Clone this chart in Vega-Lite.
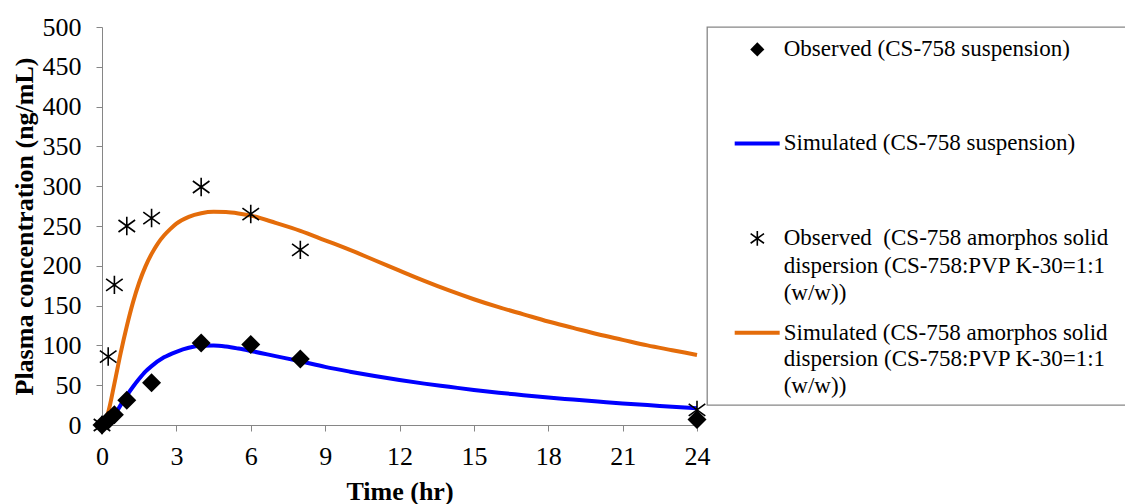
{
  "$schema": "https://vega.github.io/schema/vega-lite/v6.json",
  "autosize": {"type": "pad"},
  "padding": {"left": 11, "top": 14, "right": 0, "bottom": 0},
  "background": "white",
  "bounds": "flush",
  "spacing": 10,
  "config": {
    "view": {"stroke": null},
    "font": "Liberation Serif",
    "axis": {
      "grid": false,
      "domainColor": "#868686",
      "tickColor": "#868686",
      "tickSize": 6,
      "labelFont": "Liberation Serif",
      "labelFontSize": 26,
      "labelColor": "black",
      "labelOverlap": false,
      "labelFlush": false,
      "titleFont": "Liberation Serif",
      "titleFontSize": 26,
      "titleFontWeight": "bold",
      "titleColor": "black"
    }
  },
  "datasets": {
    "sim": [
      {"time": 0, "conc": 0, "formulation": "Suspension"},
      {"time": 0.25, "conc": 3, "formulation": "Suspension"},
      {"time": 0.5, "conc": 12, "formulation": "Suspension"},
      {"time": 0.75, "conc": 25, "formulation": "Suspension"},
      {"time": 1, "conc": 37, "formulation": "Suspension"},
      {"time": 1.25, "conc": 48, "formulation": "Suspension"},
      {"time": 1.5, "conc": 58, "formulation": "Suspension"},
      {"time": 1.75, "conc": 67, "formulation": "Suspension"},
      {"time": 2, "conc": 74, "formulation": "Suspension"},
      {"time": 2.5, "conc": 85, "formulation": "Suspension"},
      {"time": 3, "conc": 92, "formulation": "Suspension"},
      {"time": 3.5, "conc": 97, "formulation": "Suspension"},
      {"time": 4, "conc": 99.5, "formulation": "Suspension"},
      {"time": 4.5, "conc": 99.8, "formulation": "Suspension"},
      {"time": 5, "conc": 98.5, "formulation": "Suspension"},
      {"time": 5.5, "conc": 96, "formulation": "Suspension"},
      {"time": 6, "conc": 93, "formulation": "Suspension"},
      {"time": 7, "conc": 86.5, "formulation": "Suspension"},
      {"time": 8, "conc": 80, "formulation": "Suspension"},
      {"time": 9, "conc": 73, "formulation": "Suspension"},
      {"time": 10, "conc": 67, "formulation": "Suspension"},
      {"time": 11, "conc": 61.5, "formulation": "Suspension"},
      {"time": 12, "conc": 56.5, "formulation": "Suspension"},
      {"time": 13, "conc": 52, "formulation": "Suspension"},
      {"time": 14, "conc": 48, "formulation": "Suspension"},
      {"time": 15, "conc": 44, "formulation": "Suspension"},
      {"time": 16, "conc": 40.5, "formulation": "Suspension"},
      {"time": 17, "conc": 37.5, "formulation": "Suspension"},
      {"time": 18, "conc": 34.5, "formulation": "Suspension"},
      {"time": 19, "conc": 32, "formulation": "Suspension"},
      {"time": 20, "conc": 29.5, "formulation": "Suspension"},
      {"time": 21, "conc": 27, "formulation": "Suspension"},
      {"time": 22, "conc": 25, "formulation": "Suspension"},
      {"time": 23, "conc": 23, "formulation": "Suspension"},
      {"time": 24, "conc": 21, "formulation": "Suspension"},
      {"time": 0, "conc": 0, "formulation": "ASD"},
      {"time": 0.25, "conc": 16, "formulation": "ASD"},
      {"time": 0.5, "conc": 52, "formulation": "ASD"},
      {"time": 0.75, "conc": 90, "formulation": "ASD"},
      {"time": 1, "conc": 124, "formulation": "ASD"},
      {"time": 1.25, "conc": 154, "formulation": "ASD"},
      {"time": 1.5, "conc": 179, "formulation": "ASD"},
      {"time": 1.75, "conc": 199, "formulation": "ASD"},
      {"time": 2, "conc": 215, "formulation": "ASD"},
      {"time": 2.25, "conc": 228, "formulation": "ASD"},
      {"time": 2.5, "conc": 238, "formulation": "ASD"},
      {"time": 2.75, "conc": 246, "formulation": "ASD"},
      {"time": 3, "conc": 253, "formulation": "ASD"},
      {"time": 3.5, "conc": 261.5, "formulation": "ASD"},
      {"time": 4, "conc": 266, "formulation": "ASD"},
      {"time": 4.5, "conc": 267.8, "formulation": "ASD"},
      {"time": 5, "conc": 267.5, "formulation": "ASD"},
      {"time": 5.5, "conc": 265.8, "formulation": "ASD"},
      {"time": 6, "conc": 263, "formulation": "ASD"},
      {"time": 7, "conc": 254, "formulation": "ASD"},
      {"time": 8, "conc": 244, "formulation": "ASD"},
      {"time": 9, "conc": 232, "formulation": "ASD"},
      {"time": 10, "conc": 220, "formulation": "ASD"},
      {"time": 11, "conc": 207, "formulation": "ASD"},
      {"time": 12, "conc": 194, "formulation": "ASD"},
      {"time": 13, "conc": 181, "formulation": "ASD"},
      {"time": 14, "conc": 169, "formulation": "ASD"},
      {"time": 15, "conc": 158, "formulation": "ASD"},
      {"time": 16, "conc": 148, "formulation": "ASD"},
      {"time": 17, "conc": 139, "formulation": "ASD"},
      {"time": 18, "conc": 130, "formulation": "ASD"},
      {"time": 19, "conc": 122, "formulation": "ASD"},
      {"time": 20, "conc": 114, "formulation": "ASD"},
      {"time": 21, "conc": 107, "formulation": "ASD"},
      {"time": 22, "conc": 100, "formulation": "ASD"},
      {"time": 23, "conc": 94, "formulation": "ASD"},
      {"time": 24, "conc": 88, "formulation": "ASD"}
    ],
    "obs": [
      {"time": 0, "conc": 0, "formulation": "Suspension"},
      {"time": 0.25, "conc": 6, "formulation": "Suspension"},
      {"time": 0.5, "conc": 13, "formulation": "Suspension"},
      {"time": 1, "conc": 31, "formulation": "Suspension"},
      {"time": 2, "conc": 53, "formulation": "Suspension"},
      {"time": 4, "conc": 103, "formulation": "Suspension"},
      {"time": 6, "conc": 101, "formulation": "Suspension"},
      {"time": 8, "conc": 83, "formulation": "Suspension"},
      {"time": 24, "conc": 7, "formulation": "Suspension"},
      {"time": 0, "conc": 0, "formulation": "ASD"},
      {"time": 0.25, "conc": 86, "formulation": "ASD"},
      {"time": 0.5, "conc": 176, "formulation": "ASD"},
      {"time": 1, "conc": 250, "formulation": "ASD"},
      {"time": 2, "conc": 260, "formulation": "ASD"},
      {"time": 4, "conc": 299, "formulation": "ASD"},
      {"time": 6, "conc": 265, "formulation": "ASD"},
      {"time": 8, "conc": 220, "formulation": "ASD"},
      {"time": 24, "conc": 19, "formulation": "ASD"}
    ],
    "legendSymbols": [
      {"kind": "diamond", "lx": 11.7, "ly": 5.93},
      {"kind": "star", "lx": 11.7, "ly": 55.93}
    ],
    "legendLines": [
      {"kind": "Suspension", "lx": 6.44, "lx2": 16.9, "ly": 30.79},
      {"kind": "ASD", "lx": 6.44, "lx2": 16.9, "ly": 80.87}
    ],
    "legendText": [
      {"lx": 17.84, "ly": 5.93, "label": "Observed (CS-758 suspension)"},
      {"lx": 17.84, "ly": 30.79, "label": "Simulated (CS-758 suspension)"},
      {"lx": 17.84, "ly": 55.93, "label": "Observed\u00a0 (CS-758 amorphos solid"},
      {"lx": 17.84, "ly": 63.23, "label": "dispersion (CS-758:PVP K-30=1:1"},
      {"lx": 17.84, "ly": 70.29, "label": "(w/w))"},
      {"lx": 17.84, "ly": 80.87, "label": "Simulated (CS-758 amorphos solid"},
      {"lx": 17.84, "ly": 87.94, "label": "dispersion (CS-758:PVP K-30=1:1"},
      {"lx": 17.84, "ly": 94.97, "label": "(w/w))"}
    ]
  },
  "hconcat": [
    {
      "width": 595,
      "height": 398,
      "encoding": {
        "x": {"field": "time", "type": "quantitative", "scale": {"domain": [0, 24], "nice": false},
              "axis": {"values": [0, 3, 6, 9, 12, 15, 18, 21, 24], "title": "Time (hr)", "labelPadding": 12, "titlePadding": 9, "labelOverlap": false, "labelFlush": false}},
        "y": {"field": "conc", "type": "quantitative", "scale": {"domain": [0, 500], "nice": false},
              "axis": {"values": [0, 50, 100, 150, 200, 250, 300, 350, 400, 450, 500], "tickCount": 11, "title": "Plasma concentration (ng/mL)", "labelPadding": 15, "titlePadding": 5, "labelOverlap": false, "labelSeparation": 0, "labelFlush": false, "labelBound": false}}
      },
      "layer": [
        {
          "data": {"name": "sim"},
          "mark": {"type": "line", "strokeWidth": 4, "interpolate": "monotone"},
          "encoding": {
            "color": {"field": "formulation", "type": "nominal", "scale": {"domain": ["Suspension", "ASD"], "range": ["#0000FF", "#E46C0A"]}, "legend": null},
            "detail": {"field": "formulation"}
          }
        },
        {
          "data": {"name": "obs"},
          "transform": [{"filter": "datum.formulation === 'Suspension'"}],
          "mark": {"type": "point", "shape": "diamond", "filled": true, "color": "black", "size": 360, "opacity": 1}
        },
        {
          "data": {"name": "obs"},
          "transform": [{"filter": "datum.formulation === 'ASD'"}],
          "mark": {"type": "point", "shape": "M-0.9,-0.65L0.9,0.65M-0.9,0.65L0.9,-0.65M0,-1L0,1", "filled": false, "stroke": "black", "strokeWidth": 1.6, "size": 340, "opacity": 1}
        }
      ]
    },
    {
      "width": 430,
      "height": 378,
      "view": {"stroke": "#868686", "strokeWidth": 1.3},
      "layer": [
        {
          "data": {"name": "legendLines"},
          "mark": {"type": "rule", "strokeWidth": 4},
          "encoding": {
            "x": {"field": "lx", "type": "quantitative", "scale": {"domain": [0, 100]}, "axis": null},
            "x2": {"field": "lx2"},
            "y": {"field": "ly", "type": "quantitative", "scale": {"domain": [0, 100], "reverse": true}, "axis": null},
            "color": {"field": "kind", "type": "nominal", "scale": {"domain": ["Suspension", "ASD"], "range": ["#0000FF", "#E46C0A"]}, "legend": null}
          }
        },
        {
          "data": {"name": "legendSymbols"},
          "transform": [{"filter": "datum.kind === 'diamond'"}],
          "mark": {"type": "point", "shape": "diamond", "filled": true, "color": "black", "size": 200, "opacity": 1},
          "encoding": {
            "x": {"field": "lx", "type": "quantitative"},
            "y": {"field": "ly", "type": "quantitative"}
          }
        },
        {
          "data": {"name": "legendSymbols"},
          "transform": [{"filter": "datum.kind === 'star'"}],
          "mark": {"type": "point", "shape": "M-0.9,-0.65L0.9,0.65M-0.9,0.65L0.9,-0.65M0,-1L0,1", "filled": false, "stroke": "black", "strokeWidth": 1.6, "size": 220, "opacity": 1},
          "encoding": {
            "x": {"field": "lx", "type": "quantitative"},
            "y": {"field": "ly", "type": "quantitative"}
          }
        },
        {
          "data": {"name": "legendText"},
          "mark": {"type": "text", "align": "left", "baseline": "middle", "font": "Liberation Serif", "fontSize": 23, "color": "black"},
          "encoding": {
            "x": {"field": "lx", "type": "quantitative"},
            "y": {"field": "ly", "type": "quantitative"},
            "text": {"field": "label"}
          }
        }
      ],
      "resolve": {"scale": {"color": "independent"}}
    }
  ],
  "resolve": {"scale": {"color": "independent", "x": "independent", "y": "independent"}}
}
